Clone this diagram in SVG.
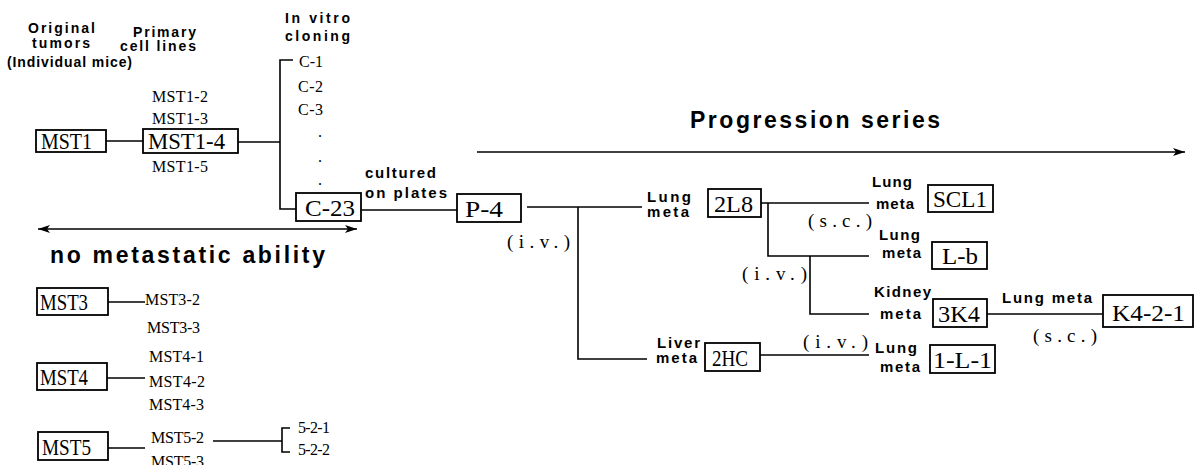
<svg xmlns="http://www.w3.org/2000/svg" width="1198" height="465" viewBox="0 0 1198 465">
<style>
.box{fill:#fff;stroke:#000;stroke-width:1.8}
.bl{font-family:"Liberation Serif",serif;font-size:24px;fill:#000}
.sl{font-family:"Liberation Serif",serif;font-size:16px;fill:#000}
.pl{font-family:"Liberation Serif",serif;font-size:19px;fill:#000}
.hl{font-family:"Liberation Sans",Arial,sans-serif;font-weight:bold;font-size:15px;fill:#000}
.hd{font-family:"Liberation Sans",Arial,sans-serif;font-weight:bold;font-size:14px;fill:#000}
.big{font-family:"Liberation Sans",Arial,sans-serif;font-weight:bold;font-size:23px;fill:#000}
.ln{fill:none;stroke:#000;stroke-width:1.6}
</style>
<defs>
<marker id="ah" markerUnits="userSpaceOnUse" markerWidth="14" markerHeight="10" refX="12" refY="5" orient="auto-start-reverse">
<path d="M0,1 L12,5 L0,9 L3,5 Z" fill="#000"/>
</marker>
</defs>

<g id="headers">
<text class="hd" x="28" y="33" textLength="67" lengthAdjust="spacing">Original</text>
<text class="hd" x="32" y="48" textLength="58" lengthAdjust="spacing">tumors</text>
<text class="hd" x="7" y="67" font-size="12.5" textLength="125" lengthAdjust="spacing">(Individual mice)</text>
<text class="hd" x="133" y="37" font-size="13" textLength="63" lengthAdjust="spacing">Primary</text>
<text class="hd" x="120" y="51" font-size="13" textLength="76" lengthAdjust="spacing">cell lines</text>
<text class="hd" x="285" y="23" textLength="65" lengthAdjust="spacing">In vitro</text>
<text class="hd" x="285" y="41" textLength="65" lengthAdjust="spacing">cloning</text>
<text class="big" x="690" y="128" font-size="22" textLength="250" lengthAdjust="spacing">Progression series</text>
<text class="big" x="50" y="263" textLength="275" lengthAdjust="spacing">no metastatic ability</text>
</g>

<g id="connectors">
<path class="ln" d="M106 141 H143"/>
<path class="ln" d="M238 142 H280"/>
<path class="ln" d="M293 60 H280 V209 H296"/>
<path class="ln" d="M361 210 H457"/>
<path class="ln" d="M527 207 H642"/>
<path class="ln" d="M578 207 V359 H647"/>
<path class="ln" d="M761 203 H869"/>
<path class="ln" d="M768 203 V256 H869"/>
<path class="ln" d="M810 256 V314 H869"/>
<path class="ln" d="M760 355 H869"/>
<path class="ln" d="M987 314 H1103"/>
<path class="ln" d="M108 302 H145"/>
<path class="ln" d="M107 378 H145"/>
<path class="ln" d="M108 448 H145"/>
<path class="ln" d="M213 441 H282"/>
<path class="ln" d="M290 428 H282 V452 H290"/>
<path class="ln" d="M38 229 H357" marker-start="url(#ah)" marker-end="url(#ah)"/>
<path class="ln" d="M477 152 H1185" marker-end="url(#ah)"/>
</g>

<g id="labels">
<text class="sl" x="152" y="102" textLength="56" lengthAdjust="spacing">MST1-2</text>
<text class="sl" x="152" y="124" textLength="56" lengthAdjust="spacing">MST1-3</text>
<text class="sl" x="152" y="172" textLength="56" lengthAdjust="spacing">MST1-5</text>
<text class="sl" x="299" y="67" font-size="15" textLength="24" lengthAdjust="spacing">C-1</text>
<text class="sl" x="298" y="92" font-size="15" textLength="25" lengthAdjust="spacing">C-2</text>
<text class="sl" x="298" y="115" font-size="15" textLength="25" lengthAdjust="spacing">C-3</text>
<text class="sl" x="318" y="137" font-size="15">.</text>
<text class="sl" x="318" y="162" font-size="15">.</text>
<text class="sl" x="318" y="185" font-size="15">.</text>
<text class="hl" x="365" y="178" font-size="14" textLength="71" lengthAdjust="spacing">cultured</text>
<text class="hl" x="365" y="198" font-size="14" textLength="82" lengthAdjust="spacing">on plates</text>
<text class="pl" x="507" y="248" textLength="63" lengthAdjust="spacing">(i.v.)</text>
<text class="hl" x="647" y="202" font-size="13.5" textLength="44" lengthAdjust="spacing">Lung</text>
<text class="hl" x="647" y="217" font-size="13.5" textLength="42" lengthAdjust="spacing">meta</text>
<text class="hl" x="657" y="348" textLength="43" lengthAdjust="spacing">Liver</text>
<text class="hl" x="656" y="363" textLength="41" lengthAdjust="spacing">meta</text>
<text class="pl" x="808" y="227" textLength="64" lengthAdjust="spacing">(s.c.)</text>
<text class="pl" x="742" y="280" textLength="65" lengthAdjust="spacing">(i.v.)</text>
<text class="pl" x="803" y="348" textLength="65" lengthAdjust="spacing">(i.v.)</text>
<text class="hl" x="872" y="187" textLength="40" lengthAdjust="spacing">Lung</text>
<text class="hl" x="876" y="209" textLength="38" lengthAdjust="spacing">meta</text>
<text class="hl" x="879" y="240" textLength="41" lengthAdjust="spacing">Lung</text>
<text class="hl" x="882" y="258" textLength="39" lengthAdjust="spacing">meta</text>
<text class="hl" x="874" y="297" textLength="57" lengthAdjust="spacing">Kidney</text>
<text class="hl" x="880" y="319" textLength="41" lengthAdjust="spacing">meta</text>
<text class="hl" x="875" y="353" textLength="42" lengthAdjust="spacing">Lung</text>
<text class="hl" x="880" y="372" textLength="40" lengthAdjust="spacing">meta</text>
<text class="hl" x="1002" y="303" textLength="90" lengthAdjust="spacing">Lung meta</text>
<text class="pl" x="1033" y="342" textLength="64" lengthAdjust="spacing">(s.c.)</text>
<text class="sl" x="145" y="305" textLength="55" lengthAdjust="spacing">MST3-2</text>
<text class="sl" x="147" y="333" textLength="53" lengthAdjust="spacing">MST3-3</text>
<text class="sl" x="149" y="362" textLength="55" lengthAdjust="spacing">MST4-1</text>
<text class="sl" x="149" y="387" textLength="56" lengthAdjust="spacing">MST4-2</text>
<text class="sl" x="149" y="410" textLength="55" lengthAdjust="spacing">MST4-3</text>
<text class="sl" x="151" y="443" textLength="53" lengthAdjust="spacing">MST5-2</text>
<text class="sl" x="151" y="467" textLength="53" lengthAdjust="spacing">MST5-3</text>
<text class="sl" x="298" y="433" font-size="15" textLength="32" lengthAdjust="spacing">5-2-1</text>
<text class="sl" x="298" y="455" font-size="15" textLength="32" lengthAdjust="spacing">5-2-2</text>
</g>

<g id="MST1"><rect class="box" x="36" y="130" width="70" height="22"/><text class="bl" x="41" y="149" textLength="51" lengthAdjust="spacingAndGlyphs">MST1</text></g>
<g id="MST1-4"><rect class="box" x="143" y="129" width="95" height="24"/><text class="bl" x="148" y="149" textLength="77" lengthAdjust="spacingAndGlyphs">MST1-4</text></g>
<g id="C-23"><rect class="box" x="296" y="193" width="65" height="28"/><text class="bl" x="305" y="216" textLength="50" lengthAdjust="spacingAndGlyphs">C-23</text></g>
<g id="P-4"><rect class="box" x="457" y="194" width="64" height="28"/><text class="bl" x="465" y="217" textLength="38" lengthAdjust="spacingAndGlyphs">P-4</text></g>
<g id="2L8"><rect class="box" x="708" y="189" width="53" height="28"/><text class="bl" x="714" y="212" textLength="39" lengthAdjust="spacingAndGlyphs">2L8</text></g>
<g id="2HC"><rect class="box" x="705" y="343" width="55" height="28"/><text class="bl" x="712" y="366" textLength="36" lengthAdjust="spacingAndGlyphs">2HC</text></g>
<g id="SCL1"><rect class="box" x="928" y="185" width="65" height="27"/><text class="bl" x="933" y="207" textLength="54" lengthAdjust="spacingAndGlyphs">SCL1</text></g>
<g id="L-b"><rect class="box" x="932" y="242" width="55" height="27"/><text class="bl" x="942" y="264" textLength="36" lengthAdjust="spacingAndGlyphs">L-b</text></g>
<g id="3K4"><rect class="box" x="933" y="299" width="54" height="28"/><text class="bl" x="938" y="322" textLength="42" lengthAdjust="spacingAndGlyphs">3K4</text></g>
<g id="1-L-1"><rect class="box" x="930" y="345" width="65" height="28"/><text class="bl" x="933" y="368" textLength="59" lengthAdjust="spacingAndGlyphs">1-L-1</text></g>
<g id="K4-2-1"><rect class="box" x="1103" y="295" width="90" height="32"/><text class="bl" x="1112" y="321" textLength="73" lengthAdjust="spacingAndGlyphs">K4-2-1</text></g>
<g id="MST3"><rect class="box" x="37" y="288" width="71" height="27"/><text class="bl" x="40" y="310" textLength="48" lengthAdjust="spacingAndGlyphs">MST3</text></g>
<g id="MST4"><rect class="box" x="37" y="363" width="70" height="27"/><text class="bl" x="40" y="385" textLength="48" lengthAdjust="spacingAndGlyphs">MST4</text></g>
<g id="MST5"><rect class="box" x="38" y="432" width="70" height="28"/><text class="bl" x="42" y="455" textLength="49" lengthAdjust="spacingAndGlyphs">MST5</text></g>
</svg>
